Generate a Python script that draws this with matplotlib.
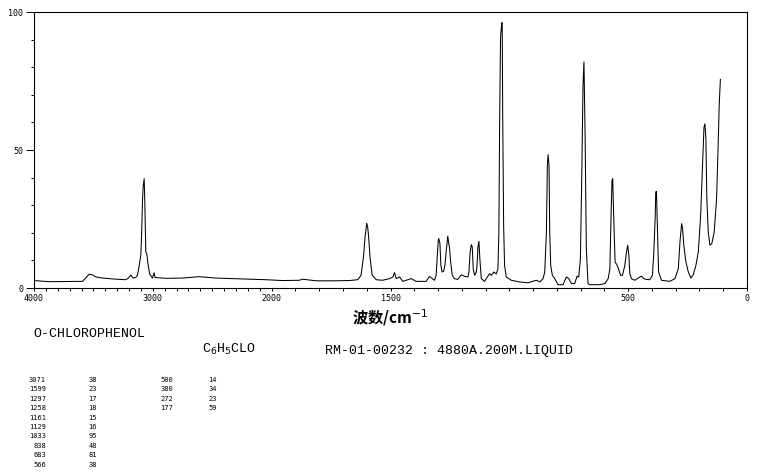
import numpy as np
import matplotlib
matplotlib.use("Agg")
import matplotlib.pyplot as plt
from matplotlib.ticker import FixedLocator, FixedFormatter, MultipleLocator

# spectrum (wavenumber cm-1, relative intensity)
wavenumber = [4000, 3874, 3593, 3565, 3537, 3509, 3480, 3424, 3312, 3228,
              3205, 3186, 3166, 3144, 3130, 3115, 3101, 3093, 3087, 3082,
              3073, 3068, 3059, 3051, 3040, 3026, 3003, 2989, 2981, 2891,
              2750, 2610, 2470, 2329, 2189, 2048, 1954, 1884, 1870, 1813,
              1743, 1673, 1638, 1624, 1614, 1607, 1603, 1600, 1596, 1592,
              1586, 1577, 1560, 1533, 1504, 1490, 1483, 1476, 1462, 1448,
              1413, 1392, 1350, 1336, 1315, 1308, 1302, 1299, 1297, 1292,
              1288, 1283, 1277, 1271, 1266, 1261, 1259, 1254, 1252, 1247,
              1240, 1231, 1217, 1202, 1188, 1174, 1170, 1165, 1160, 1156,
              1152, 1146, 1139, 1136, 1132, 1128, 1124, 1118, 1104, 1097,
              1083, 1076, 1065, 1055, 1048, 1044, 1041, 1037, 1032, 1030,
              1028, 1024, 1020, 1013, 992, 957, 922, 886, 872, 858,
              851, 844, 840, 837, 833, 830, 826, 819, 809, 795,
              774, 760, 750, 739, 725, 715, 708, 701, 695, 690,
              686, 681, 676, 669, 662, 620, 598, 584, 577, 572,
              568, 565, 561, 555, 546, 541, 532, 524, 514, 507,
              502, 497, 493, 486, 472, 458, 444, 434, 423, 409,
              398, 392, 386, 384, 381, 377, 372, 360, 325, 303,
              289, 282, 275, 271, 266, 257, 247, 236, 226, 215,
              205, 195, 187, 181, 177, 173, 169, 163, 156, 148,
              138, 128, 121, 117, 112]
intensity = [2.7, 2.3, 2.4, 3.6, 5.0, 4.8, 4.0, 3.6, 3.2, 3.0,
             3.6, 4.7, 3.6, 3.8, 4.6, 8.0, 12.0, 21.5, 31.5, 36.5,
             39.6, 32.0, 13.0, 12.4, 8.5, 5.0, 3.6, 5.5, 3.8, 3.5,
             3.6, 4.1, 3.6, 3.4, 3.2, 3.0, 2.7, 2.8, 3.2, 2.6,
             2.6, 2.7, 3.0, 4.6, 11.0, 18.5, 21.5, 23.5, 22.0, 18.5,
             11.0, 4.6, 3.0, 2.8, 3.4, 4.0, 5.6, 3.4, 4.0, 2.4,
             3.4, 2.4, 2.4, 4.2, 2.8, 4.6, 13.0, 17.3, 17.9, 16.1,
             8.2, 5.8, 6.0, 8.2, 13.0, 17.3, 18.8, 15.5, 15.0, 9.4,
             4.6, 3.4, 3.1, 4.8, 4.2, 4.0, 5.8, 13.0, 15.7, 14.9,
             7.0, 4.6, 5.8, 8.2, 14.9, 16.9, 10.5, 3.4, 2.4, 3.4,
             5.2, 4.6, 5.8, 5.1, 7.0, 20.3, 57.7, 90.9, 96.1, 96.1,
             63.6, 22.7, 8.2, 4.0, 2.8, 2.2, 1.9, 2.8, 2.2, 3.4,
             5.8, 20.3, 44.4, 48.3, 44.4, 20.3, 8.2, 4.6, 3.4, 1.2,
             1.2, 4.0, 3.4, 1.6, 1.6, 4.3, 4.0, 10.6, 42.0, 73.4,
             81.9, 54.1, 14.3, 1.6, 1.2, 1.2, 1.6, 3.4, 7.0, 26.3,
             39.0, 39.6, 26.3, 9.4, 8.2, 7.0, 4.6, 4.6, 8.2, 13.0,
             15.5, 11.8, 5.2, 3.4, 2.8, 3.6, 4.3, 3.4, 3.1, 3.0,
             4.6, 13.0, 26.3, 34.8, 35.0, 21.7, 5.8, 2.8, 2.4, 3.4,
             7.0, 16.7, 23.3, 21.5, 15.5, 9.4, 5.8, 3.6, 4.8, 8.2,
             13.0, 26.3, 44.4, 58.3, 59.5, 54.1, 32.4, 20.3, 15.5, 16.1,
             20.3, 32.4, 52.9, 66.2, 75.6]

# axis labels
x_ticks = [4000, 3000, 2000, 1500, 500, 0]
x_labels = ["4000", "3000", "2000", "1500", "500", "0"]
y_ticks = [0, 50, 100]

# peak table
peak_wn = ["3071", "1599", "1297", "1258", "1161", "1129", "1033", "838", "683", "566",
           "500", "380", "272", "177"]
peak_int = ["38", "23", "17", "18", "15", "16", "95", "48", "81", "38",
            "14", "34", "23", "59"]

compound = "O-CHLOROPHENOL"
formula = r"C$_6$H$_5$CLO"
record = "RM-01-00232 : 4880A.200M.LIQUID"
xlabel = "波数/cm$^{-1}$"

W, H = 761, 477


# above 2000 cm-1 the axis is drawn at half scale
def fwd(x):
    x = np.asarray(x, dtype=float)
    return np.where(x > 2000, 2000 + (x - 2000) / 2.0, x)


def inv(u):
    u = np.asarray(u, dtype=float)
    return np.where(u > 2000, 2000 + (u - 2000) * 2.0, u)


fig = plt.figure(figsize=(W / 100, H / 100), dpi=100)
fig.patch.set_facecolor("white")

left, right, top, bottom = 34, 747, 13, 289
ax = fig.add_axes([left / W, 1 - bottom / H, (right - left) / W, (bottom - top) / H])

ax.plot(wavenumber, intensity, color="black", lw=0.75)

ax.set_xscale("function", functions=(fwd, inv))
ax.set_xlim(4000, 0)
ax.set_ylim(0, 100)

ax.xaxis.set_major_locator(FixedLocator(x_ticks))
ax.xaxis.set_major_formatter(FixedFormatter(x_labels))
ax.xaxis.set_minor_locator(FixedLocator(list(range(0, 4001, 100))))
ax.yaxis.set_major_locator(FixedLocator(y_ticks))
ax.yaxis.set_minor_locator(MultipleLocator(10))

ax.tick_params(axis="x", which="both", direction="out", length=2.3, width=0.7, pad=1.5)
ax.tick_params(axis="y", which="major", direction="out", length=5.8, width=0.7, pad=2)
ax.tick_params(axis="y", which="minor", direction="out", length=2.3, width=0.7)
for lab in ax.get_xticklabels() + ax.get_yticklabels():
    lab.set_fontfamily("DejaVu Sans Mono")
    lab.set_fontsize(6)
for sp in ax.spines.values():
    sp.set_linewidth(0.8)

fig.text(390 / W, 1 - 318 / H, xlabel, ha="center", va="center", fontsize=11,
         fontweight="bold", family=["Noto Sans CJK SC", "DejaVu Sans"])

fig.text(33 / W, 1 - 337 / H, compound, ha="left", va="baseline",
         fontsize=9.5, family="Liberation Mono")
fig.text(202 / W, 1 - 353 / H, formula, ha="left", va="baseline",
         fontsize=9.5, family="Liberation Mono")
fig.text(325 / W, 1 - 354 / H, record, ha="left", va="baseline",
         fontsize=9.5, family="Liberation Mono")

# peak list in two blocks of 10 rows
col_right = [(46, 97), (173, 217)]
row0, row_step = 382, 9.4
for i, (wn, val) in enumerate(zip(peak_wn, peak_int)):
    block, row = divmod(i, 10)
    y = 1 - (row0 + row * row_step) / H
    fig.text(col_right[block][0] / W, y, wn, ha="right", va="baseline",
             fontsize=5, family="DejaVu Sans Mono")
    fig.text(col_right[block][1] / W, y, val, ha="right", va="baseline",
             fontsize=5, family="DejaVu Sans Mono")

fig.savefig("out.png", dpi=100)
